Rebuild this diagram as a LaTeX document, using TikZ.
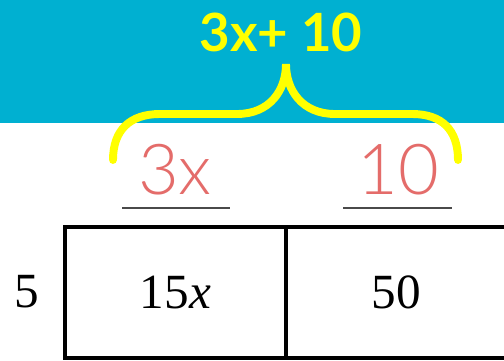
\documentclass[tikz,border=0pt]{standalone}
\usepackage{fontspec}
\setmainfont{Liberation Serif}
\newfontfamily\titlefont{Lato}
\newfontfamily\handfont{Lato Light}
\usepackage{tikz}
\usetikzlibrary{positioning}
\definecolor{bandTeal}{HTML}{00B0D1}
\definecolor{braceYellow}{HTML}{FFFF00}
\definecolor{handRed}{HTML}{E46C6A}
\definecolor{ruleGray}{HTML}{4A4A4A}

\begin{document}
\begin{tikzpicture}[
  x=0.02cm,y=-0.02cm,
  cell/.style={draw=black,line width=2.3pt,minimum width=4.42cm,minimum height=2.62cm,inner sep=0pt,outer sep=0pt,font=\fontsize{28}{32}\selectfont},
  hand/.style={text=handRed,font=\handfont\fontsize{40}{46}\selectfont,inner sep=0pt},
  brace/.style={draw=braceYellow,line width=4.5pt,line cap=round},
  rule/.style={draw=ruleGray,line width=1.5pt}
]
  \useasboundingbox (0,0) rectangle (504,361);
  \fill[white] (0,0) rectangle (504,361);
  \fill[bandTeal] (0,0) rectangle (504,123);
  \node[text=braceYellow,font=\titlefont\bfseries\fontsize{30}{36}\selectfont] (total) at (281,32) {3x+ 10};
  \draw[brace] (113,160) .. controls (113,130) and (130,114) .. (160,114) -- (237,114)
    .. controls (270,114) and (286,90) .. (286,64)
    .. controls (286,90) and (302,114) .. (335,114) -- (412,114)
    .. controls (442,114) and (458,130) .. (458,160);
  \node[hand] (termx) at (175,170) {3x};
  \node[hand] (termc) at (398,170) {10};
  \draw[rule] (122,208) -- (230,208);
  \draw[rule] (343,208) -- (452,208);
  \node[cell] (left) at (175.5,292.5) {15\textit{x}};
  \node[cell,right=0pt of left] (right) {50};
  \node[font=\fontsize{28}{32}\selectfont] (factor) at (27,292) {5};
\end{tikzpicture}
\end{document}
